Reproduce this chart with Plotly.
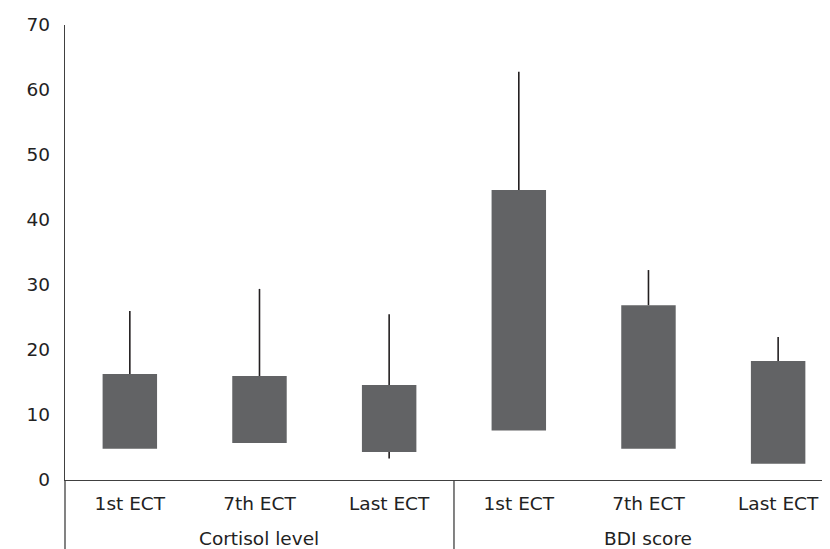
import plotly.graph_objects as go

groups = ["Cortisol level"] * 3 + ["BDI score"] * 3
sessions = ["1st ECT", "7th ECT", "Last ECT"] * 2
box_low = [4.8, 5.7, 4.3, 7.6, 4.8, 2.5]
box_high = [16.3, 16.0, 14.6, 44.6, 26.9, 18.3]
whisker_high = [26.0, 29.4, 25.5, 62.8, 32.3, 22.0]
whisker_low = [4.8, 5.7, 3.3, 7.6, 4.8, 2.5]
y_ticks = [0, 10, 20, 30, 40, 50, 60, 70]

idx = list(range(len(sessions)))
bar_color = "#626365"
line_color = "#231f20"
axis_color = "#404040"
font = dict(family="DejaVu Sans, Verdana, sans-serif", size=18.5, color="#222222")

# page body adds an 8px offset, so the figure is sized to the visible area
W, H = 822, 541
ML, MR, MT, MB = 57, 0, 17, 69
x_range = [-0.5, 5.4]
plot_h = H - MT - MB

fig = go.Figure()
fig.add_trace(go.Bar(
    x=idx, y=[h - l for h, l in zip(box_high, box_low)], base=box_low,
    marker=dict(color=bar_color, line=dict(width=0)), width=0.42,
    showlegend=False, hoverinfo="skip",
))
fig.add_trace(go.Scatter(
    x=idx, y=box_high, mode="markers", marker=dict(opacity=0, size=1),
    error_y=dict(type="data", symmetric=False,
                 array=[w - h for w, h in zip(whisker_high, box_high)],
                 arrayminus=[0] * 6, width=0, thickness=1.6, color=line_color),
    showlegend=False, hoverinfo="skip",
))
fig.add_trace(go.Scatter(
    x=idx, y=box_low, mode="markers", marker=dict(opacity=0, size=1),
    error_y=dict(type="data", symmetric=False,
                 array=[0] * 6,
                 arrayminus=[l - w for l, w in zip(box_low, whisker_low)], width=0, thickness=1.6, color=line_color),
    showlegend=False, hoverinfo="skip",
))

def to_paper(v):
    return (v - x_range[0]) / (x_range[1] - x_range[0])

group_order = []
for g in groups:
    if g not in group_order:
        group_order.append(g)
annotations = []
shapes = []
bounds = set()
for g in group_order:
    members = [i for i, gg in enumerate(groups) if gg == g]
    lo, hi = min(members) - 0.5, max(members) + 0.5
    bounds.update([lo, hi])
    annotations.append(dict(
        x=sum(members) / len(members), xref="x", y=0, yref="paper",
        text=g, showarrow=False, yanchor="middle", yshift=-58, font=font,
    ))
for b in sorted(bounds):
    p = to_paper(b)
    if 0 <= p <= 1:
        shapes.append(dict(
            type="line", xref="paper", yref="paper", x0=p, x1=p,
            y0=0, y1=-MB / plot_h, line=dict(color=axis_color, width=1.3),
        ))

fig.update_layout(
    width=W, height=H,
    margin=dict(l=ML, r=MR, t=MT, b=MB, autoexpand=False),
    paper_bgcolor="white", plot_bgcolor="white",
    font=font, hovermode=False,
    annotations=annotations, shapes=shapes,
)
fig.update_xaxes(
    range=x_range, tickvals=idx, ticktext=sessions,
    showline=True, linecolor=axis_color, linewidth=1.3,
    showgrid=False, zeroline=False, ticks="", ticklabelstandoff=7,
    tickfont=font, automargin=False,
)
fig.update_yaxes(
    range=[0, 70], tickvals=y_ticks, ticktext=[str(v) for v in y_ticks],
    showline=True, linecolor=axis_color, linewidth=1.3,
    showgrid=False, zeroline=False, ticks="", ticklabelstandoff=10,
    tickfont=font, automargin=False,
)
fig.write_html("out.html")
